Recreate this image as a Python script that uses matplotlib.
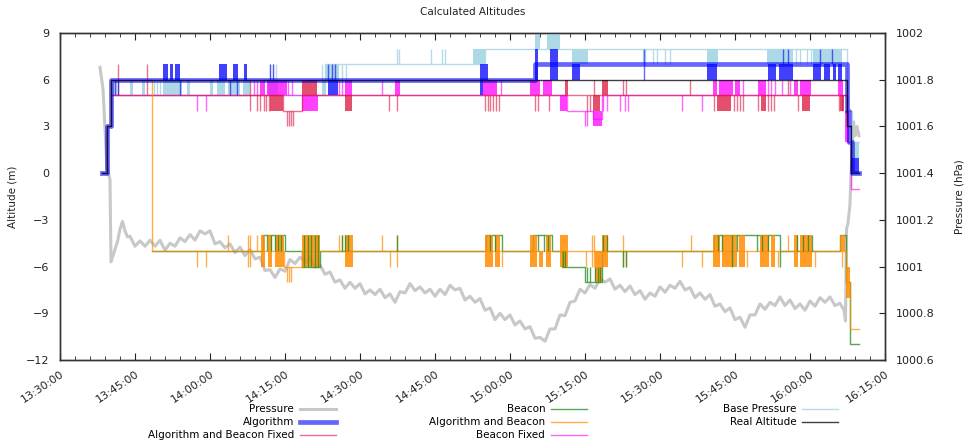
import numpy as np
import matplotlib
matplotlib.use("Agg")
import matplotlib.pyplot as plt

# time axis: minutes after 13:30:00
tick_pos = [0, 15, 30, 45, 60, 75, 90, 105, 120, 135, 150, 165]
tick_labels = ['13:30:00', '13:45:00', '14:00:00', '14:15:00', '14:30:00', '14:45:00',
               '15:00:00', '15:15:00', '15:30:00', '15:45:00', '16:00:00', '16:15:00']

# barometer readings (hPa)
press_head_t = [8.0, 8.6, 9.4, 10.0, 10.2, 10.6, 11.0, 11.5, 12.0, 12.5, 13.0, 13.5]
press_head = [1001.853, 1001.760, 1001.420, 1001.373, 1001.020, 1001.047, 1001.073,
              1001.107, 1001.160, 1001.193, 1001.153, 1001.127]
press_min_t0 = 14  # one reading per minute from here
press_min = [
    1001.130, 1001.087, 1001.110, 1001.087, 1001.113, 1001.087, 1001.113, 1001.070, 1001.100, 1001.087,
    1001.123, 1001.107, 1001.137, 1001.113, 1001.153, 1001.140, 1001.153, 1001.097, 1001.107, 1001.080,
    1001.097, 1001.060, 1001.083, 1001.047, 1001.073, 1001.033, 1001.040, 1000.983, 1000.987, 1000.953,
    1000.990, 1000.980, 1001.030, 1001.013, 1001.040, 1001.020, 1001.040, 1000.997, 1001.007, 1000.967,
    1000.977, 1000.933, 1000.943, 1000.907, 1000.933, 1000.907, 1000.927, 1000.883, 1000.900, 1000.880,
    1000.903, 1000.867, 1000.883, 1000.847, 1000.893, 1000.887, 1000.927, 1000.897, 1000.913, 1000.887,
    1000.903, 1000.873, 1000.903, 1000.880, 1000.920, 1000.900, 1000.907, 1000.857, 1000.873, 1000.847,
    1000.863, 1000.813, 1000.823, 1000.773, 1000.800, 1000.773, 1000.793, 1000.750, 1000.767, 1000.733,
    1000.743, 1000.693, 1000.697, 1000.680, 1000.733, 1000.733, 1000.793, 1000.790, 1000.847, 1000.853,
    1000.903, 1000.887, 1000.923, 1000.907, 1000.947, 1000.933, 1000.947, 1000.903, 1000.920, 1000.893,
    1000.917, 1000.880, 1000.897, 1000.860, 1000.887, 1000.873, 1000.913, 1000.890, 1000.920, 1000.907,
    1000.937, 1000.900, 1000.910, 1000.867, 1000.887, 1000.860, 1000.880, 1000.830, 1000.840, 1000.807,
    1000.823, 1000.773, 1000.783, 1000.740, 1000.793, 1000.793, 1000.840, 1000.817, 1000.847, 1000.833,
    1000.870, 1000.833, 1000.857, 1000.820, 1000.840, 1000.813, 1000.853, 1000.830, 1000.867, 1000.847,
    1000.870, 1000.833, 1000.843]
press_tail_t = [156.8, 157.1, 157.3, 157.6, 158.0, 158.2, 158.7, 159.0, 159.4, 159.8]
press_tail = [1000.813, 1000.767, 1001.160, 1001.187, 1001.267, 1001.400, 1001.620, 1001.560,
              1001.600, 1001.560]

# real altitude (m)
real_t = [8.4, 9.4, 10.2, 157.4, 158.2, 159.8]
real_v = [0, 3, 6, 3, 0, 0]

# algorithm estimate
algo_t = [8.4, 9.4, 10.2, 95.0, 157.4, 157.8, 158.4, 159.8]
algo_v = [0, 3, 6, 7, 4, 2, 0, 0]
algo_blocks = [(20.5, 21.6, 6, 7), (22.0, 22.6, 6, 7), (23.0, 24.0, 6, 7), (31.7, 33.3, 6, 7),
               (34.5, 35.5, 6, 7), (36.7, 37.3, 6, 7), (53.5, 55.5, 5, 6), (84.0, 85.6, 6, 7),
               (84.0, 84.6, 5, 6), (95.0, 95.6, 6, 8), (98.0, 99.6, 6, 8), (102.4, 104.0, 6, 7),
               (129.4, 131.4, 6, 7), (141.6, 143.2, 6, 7), (143.8, 146.6, 6, 7), (150.6, 152.2, 6, 7),
               (152.8, 154.0, 6, 7), (154.6, 155.2, 6, 7), (155.6, 156.4, 6, 7), (158.4, 159.8, 0, 1)]
algo_spikes = [(11.0, 5, 6), (11.6, 5, 6), (24.0, 5, 6), (34.0, 5, 6), (35.4, 5, 6), (42.0, 6, 7),
               (42.6, 6, 7), (53.6, 6, 7), (54.3, 6, 7), (55.0, 6, 7), (116.7, 6, 8), (144.6, 7, 8),
               (145.6, 7, 8), (152.0, 7, 8), (154.3, 7, 8)]

# base pressure reference
base_t = [10.2, 53.0, 85.0, 157.4, 158.4, 159.8]
base_v = [5, 7, 8, 4, 2, 2]
base_blocks = [(10.6, 11.4, 5, 6), (14.0, 14.6, 5, 6), (16.4, 17.0, 5, 6), (20.6, 24.4, 5, 6),
               (25.4, 26.0, 5, 6), (30.0, 30.6, 5, 6), (31.4, 33.0, 5, 6), (33.6, 36.0, 5, 6),
               (36.6, 38.0, 5, 6), (41.6, 43.6, 5, 6), (53.0, 55.8, 6, 7), (52.4, 53.0, 5, 6),
               (82.6, 85.0, 7, 8), (95.0, 96.0, 8, 9), (97.4, 100.0, 8, 9), (102.4, 105.6, 7, 8),
               (129.4, 131.6, 7, 8), (141.4, 146.6, 7, 8), (150.6, 156.4, 7, 8), (158.4, 159.8, 1, 2)]
base_spikes = [(18.8, 5, 6), (19.4, 5, 6), (20.0, 5, 6), (42.0, 6, 7), (42.6, 6, 7), (43.2, 6, 7),
               (52.4, 6, 7), (56.4, 6, 7), (57.2, 6, 7), (67.4, 7, 8), (67.8, 7, 8), (74.2, 7, 8),
               (76.4, 7, 8), (77.0, 7, 8), (116.5, 7, 8), (117.0, 7, 8), (118.6, 7, 8), (119.3, 7, 8),
               (121.0, 7, 8), (122.0, 7, 8), (147.2, 7, 8), (148.0, 7, 8), (149.4, 7, 8), (150.2, 7, 8)]

# beacon fixed
bfix_t = [10.2, 101.4, 106.6, 108.4, 157.4, 158.2, 159.8]
bfix_v = [5, 4, 3.5, 5, 2, -1, -1]
bfix_blocks = [(40.0, 41.0, 5, 6), (41.4, 45.4, 5, 6), (48.4, 51.6, 4, 5), (57.0, 58.4, 5, 6),
               (67.0, 68.0, 5, 6), (84.6, 87.4, 5, 6), (94.0, 96.0, 5, 6), (96.6, 98.4, 5, 6),
               (100.0, 101.4, 4, 5), (106.6, 108.4, 3, 4), (130.6, 131.4, 5, 6), (131.8, 134.6, 5, 6),
               (135.0, 136.0, 5, 6), (139.6, 141.2, 5, 6), (146.8, 147.6, 5, 6), (148.0, 150.2, 5, 6),
               (155.6, 156.6, 5, 6), (157.0, 157.8, 2, 4)]
bfix_spikes = [(27.4, 4, 5), (29.2, 4, 5), (38.8, 5, 6), (39.4, 5, 6), (45.6, 5, 6), (46.4, 5, 6),
               (55.8, 5, 6), (56.4, 5, 6), (64.4, 5, 6), (88.2, 5, 6), (105.0, 3, 4), (105.4, 3, 4),
               (108.6, 4, 5), (109.4, 4, 5), (112.0, 4, 5), (113.0, 4, 5), (113.6, 4, 5),
               (124.4, 4, 5), (128.4, 4, 5), (136.6, 5, 6), (141.6, 5, 6), (142.2, 5, 6), (143.0, 5, 6),
               (144.3, 5, 6), (146.0, 5, 6)]

# algorithm and beacon fixed
abfix_t = [10.2, 44.6, 48.4, 157.4, 158.2]
abfix_v = [5, 4, 5, 3, 3]
abfix_blocks = [(42.0, 44.6, 4, 5), (48.4, 51.4, 5, 6), (57.0, 58.4, 4, 5), (101.0, 101.6, 5, 6),
                (106.6, 108.0, 4, 5), (108.4, 109.6, 5, 6), (131.4, 134.2, 4, 5), (140.2, 141.2, 4, 5),
                (148.4, 150.0, 4, 5), (156.0, 156.8, 4, 5)]
abfix_spikes = [(11.6, 5, 7), (17.4, 5, 7), (37.9, 4, 6), (39.4, 4, 5), (40.0, 4, 5), (40.8, 4, 5),
                (41.2, 4, 5), (41.8, 4, 5), (45.4, 3, 4), (45.8, 3, 4), (46.2, 3, 4), (46.6, 3, 4),
                (65.7, 4, 5), (67.3, 4, 5), (85.0, 4, 5), (85.5, 4, 5), (86.0, 4, 5), (86.6, 4, 5),
                (87.2, 4, 5), (87.8, 4, 5), (95.0, 4, 5), (95.6, 4, 5), (97.8, 4, 5), (105.4, 4, 5),
                (106.0, 4, 5), (106.7, 5, 6), (112.6, 5, 6), (113.2, 5, 6), (126.0, 5, 6),
                (130.8, 4, 5), (134.8, 4, 5), (135.4, 4, 5), (136.0, 4, 5), (136.6, 4, 5),
                (139.6, 4, 5), (141.6, 4, 5), (142.2, 4, 5), (142.8, 4, 5), (145.6, 5, 6),
                (147.6, 4, 5), (155.8, 4, 5), (156.4, 4, 5)]

# algorithm and beacon
ab_t = [8.4, 9.4, 10.2, 18.4, 44.8, 48.4, 157.2, 158.0, 159.8]
ab_v = [0, 3, 6, -5, -6, -5, -7, -10, -10]
ab_blocks = [(40.2, 41.0, -6, -4), (41.6, 42.4, -6, -4), (43.0, 44.8, -6, -4), (48.4, 52.0, -6, -4),
             (57.0, 58.6, -6, -4), (85.0, 86.6, -6, -4), (87.0, 88.0, -6, -4), (94.0, 95.4, -6, -4),
             (95.8, 96.6, -6, -5), (97.2, 98.2, -6, -4), (100.0, 101.6, -6, -4), (107.0, 108.4, -7, -5),
             (108.4, 109.6, -6, -4), (130.6, 132.0, -6, -4), (132.4, 135.4, -6, -4),
             (135.8, 137.0, -6, -4), (140.0, 141.8, -6, -4), (142.2, 143.0, -6, -4),
             (146.8, 147.6, -6, -4), (148.0, 150.4, -6, -4), (156.0, 157.0, -5, -4),
             (157.2, 158.0, -8, -6)]
ab_spikes = [(27.4, -6, -5), (29.2, -6, -5), (33.6, -5, -4), (37.6, -6, -4), (38.0, -6, -4),
             (39.4, -5, -4), (45.4, -7, -6), (45.8, -7, -6), (46.2, -7, -6), (55.8, -5, -4),
             (56.4, -5, -4), (64.4, -5, -4), (66.0, -6, -5), (67.3, -6, -4), (88.4, -6, -5),
             (105.2, -6, -5), (106.4, -6, -4), (106.8, -6, -4), (112.6, -6, -4), (113.2, -6, -5),
             (124.4, -6, -5), (126.2, -5, -4), (128.4, -6, -5), (137.4, -6, -5), (143.6, -6, -5),
             (145.6, -5, -4), (151.0, -6, -5), (156.4, -6, -5)]

# beacon only
beacon_t = [18.4, 40.6, 45.0, 48.4, 52.0, 85.2, 88.4, 94.6, 98.4, 100.4, 105.0, 108.4,
            130.8, 144.0, 156.0, 157.2, 158.0, 159.8]
beacon_v = [-5, -4, -5, -6, -5, -4, -5, -4, -5, -6, -7, -5, -4, -5, -4, -7, -11, -11]
beacon_spikes = [(41.4, -5, -4), (42.2, -5, -4), (43.0, -5, -4), (43.6, -5, -4), (44.2, -5, -4),
                 (48.8, -6, -4), (49.6, -6, -4), (50.2, -6, -4), (51.0, -6, -4), (51.6, -6, -4),
                 (56.4, -5, -4), (57.0, -5, -4), (57.6, -5, -4), (67.4, -5, -4), (86.0, -5, -4),
                 (87.0, -5, -4), (95.6, -5, -4), (96.8, -5, -4), (97.6, -5, -4), (100.6, -6, -5),
                 (101.0, -6, -5), (105.4, -7, -6), (106.0, -7, -6), (107.0, -7, -6), (107.6, -7, -6),
                 (108.0, -7, -6), (108.6, -5, -4), (109.4, -5, -4), (112.6, -6, -5), (113.2, -6, -5),
                 (131.6, -5, -4), (132.4, -5, -4), (134.4, -6, -4), (135.4, -5, -4), (139.4, -5, -4),
                 (140.4, -5, -4), (141.6, -5, -4), (144.0, -6, -5), (147.4, -5, -4), (148.6, -5, -4),
                 (149.6, -5, -4), (150.4, -5, -4)]


def draw_series(ax, t, v, color, label, lw=1.0, alpha=0.65, z=3, blocks=(), spikes=(), mark_z=None):
    line, = ax.step(t, v, where='post', color=color, lw=lw, alpha=alpha, label=label, zorder=z)
    mz = z if mark_z is None else mark_z
    for t0, t1, lo, hi in blocks:
        ax.fill_between([t0, t1], lo, hi, color=color, alpha=min(1, alpha + 0.15), lw=0, zorder=mz)
    if spikes:
        st, slo, shi = zip(*spikes)
        ax.vlines(st, slo, shi, color=color, lw=1.0, alpha=alpha, zorder=mz)
    return line


fig = plt.figure(figsize=(9.68, 4.44), dpi=100)
ax = fig.add_axes([60 / 968, 84 / 444, 825 / 968, 327 / 444])
ax2 = ax.twinx()
ax.set_zorder(ax2.get_zorder() + 1)
ax.patch.set_visible(False)

press_t = np.concatenate([press_head_t, press_min_t0 + np.arange(len(press_min)), press_tail_t])
press_v = np.concatenate([press_head, press_min, press_tail])
h_press, = ax2.plot(press_t, press_v, color='#c8c8c8', lw=2.2, label='Pressure')

h_base = draw_series(ax, base_t, base_v, '#add8e6', 'Base Pressure', alpha=0.9, z=2,
                     blocks=base_blocks, spikes=base_spikes)
h_bfix = draw_series(ax, bfix_t, bfix_v, '#ff00ff', 'Beacon Fixed', alpha=0.6, z=3,
                     blocks=bfix_blocks, spikes=bfix_spikes)
h_abfix = draw_series(ax, abfix_t, abfix_v, '#dc143c', 'Algorithm and Beacon Fixed', alpha=0.6, z=3.2,
                      blocks=abfix_blocks, spikes=abfix_spikes)
h_beacon = draw_series(ax, beacon_t, beacon_v, '#1c8a1c', 'Beacon', alpha=0.75, z=2.8,
                       spikes=beacon_spikes, mark_z=3.6)
h_ab = draw_series(ax, ab_t, ab_v, '#ff8c00', 'Algorithm and Beacon', alpha=0.7, z=3.4,
                   blocks=ab_blocks, spikes=ab_spikes)
h_algo = draw_series(ax, algo_t, algo_v, '#0000ff', 'Algorithm', lw=3.4, alpha=0.6, z=4,
                     blocks=algo_blocks, spikes=algo_spikes)
h_real, = ax.step(real_t, real_v, where='post', color='black', lw=1.0, alpha=0.75,
                  label='Real Altitude', zorder=5)

ax.set_xlim(0, 165)
ax.set_ylim(-12, 9)
ax2.set_ylim(1000.6, 1002)
ax.set_xticks(tick_pos)
ax.set_xticklabels(tick_labels, rotation=34, ha='right', va='top', rotation_mode='anchor', fontsize=8)
ax.set_xticks(np.arange(0, 166, 3), minor=True)
ax.set_yticks(np.arange(-12, 10, 3))
ax2.set_yticks(np.arange(1000.6, 1002.01, 0.2))
ax2.set_yticklabels([f'{v:g}' for v in np.round(np.arange(1000.6, 1002.01, 0.2), 1)])

ax.tick_params(axis='x', which='both', direction='in', top=True, colors='#222', labelsize=8, pad=6)
ax.tick_params(axis='x', which='major', length=5)
ax.tick_params(axis='x', which='minor', length=3)
ax.tick_params(axis='y', length=0, labelsize=8, pad=8, colors='#222')
ax2.tick_params(axis='y', direction='in', length=4, labelsize=8, pad=8, colors='#222')
for a in (ax, ax2):
    for s in a.spines.values():
        s.set_color('#333333')
        s.set_linewidth(1.0)

ax.set_title('Calculated Altitudes', fontsize=7.5, color='#222', pad=13)
ax.set_ylabel('Altitude (m)', fontsize=7.5, color='#222')
ax.yaxis.set_label_coords(-0.052, 0.5)
ax2.set_ylabel('Pressure (hPa)', fontsize=7.5, color='#222')
ax2.yaxis.set_label_coords(1.084, 0.5)

leg_kw = dict(loc='upper right', frameon=False, markerfirst=False, fontsize=7.5, borderpad=0,
              handlelength=3.4, handletextpad=0.6, labelspacing=0.3)
leg_top = (444 - 399) / 444
fig.legend(handles=[h_press, h_algo, h_abfix], bbox_to_anchor=(341 / 968, leg_top), **leg_kw)
fig.legend(handles=[h_beacon, h_ab, h_bfix], bbox_to_anchor=(592 / 968, leg_top), **leg_kw)
fig.legend(handles=[h_base, h_real], bbox_to_anchor=(843 / 968, leg_top), **leg_kw)

fig.savefig('out.png', dpi=100)
